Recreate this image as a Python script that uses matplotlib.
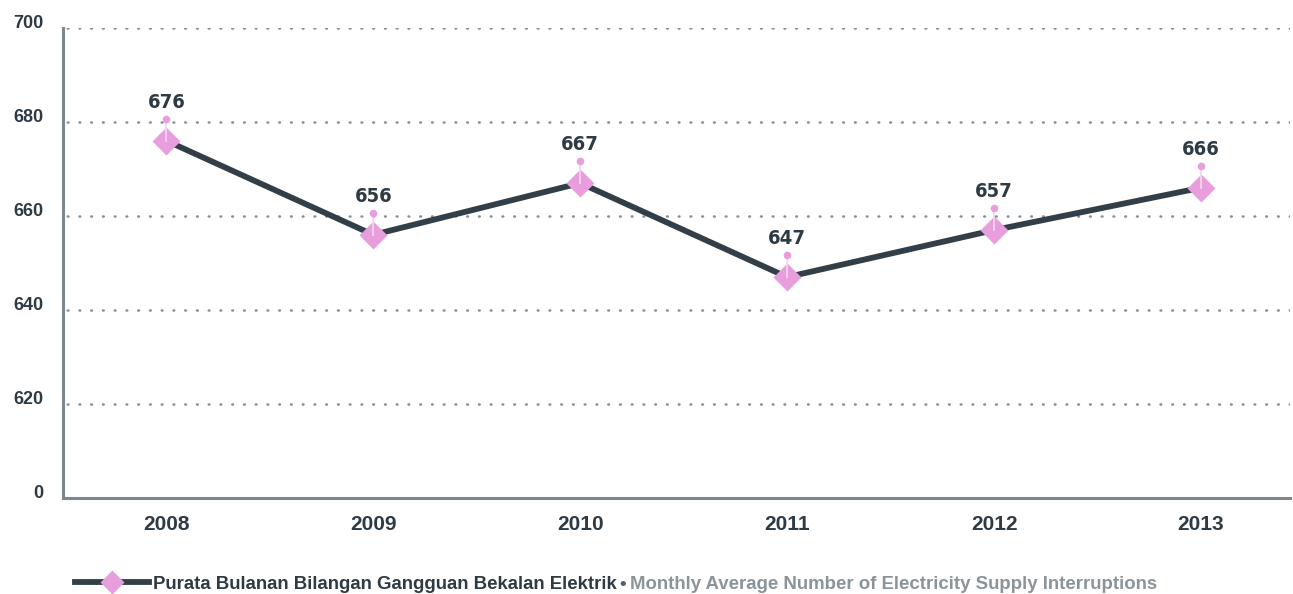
import matplotlib
matplotlib.use("Agg")
import matplotlib.pyplot as plt
from matplotlib.lines import Line2D
from matplotlib import font_manager as fm

# data
years = ["2008", "2009", "2010", "2011", "2012", "2013"]
interruptions = [676, 656, 667, 647, 657, 666]
y_ticks = [600, 620, 640, 660, 680, 700]
y_tick_labels = ["0", "620", "640", "660", "680", "700"]

LINE = "#333F48"
PINK = "#E89EDC"
STEM = "#F2D6EE"
TEXT = "#2E3A44"
GREY = "#8A949A"
AXIS = "#7D878D"

plt.rcParams["font.family"] = ["Liberation Sans", "DejaVu Sans"]

# condensed bold face for the point labels, if one is around
cond = None
for f in fm.fontManager.ttflist:
    if "Condensed" in f.fname and "Bold" in f.fname and "Oblique" not in f.fname:
        cond = f.fname
        break
label_font = fm.FontProperties(fname=cond, size=14.5) if cond else fm.FontProperties(family="Liberation Sans", weight="bold", size=14)

fig = plt.figure(figsize=(12.93, 5.94), dpi=100)
ax = fig.add_axes([0.0487, 0.1616, 0.949, 0.7913])

x = list(range(len(years)))

# stems + small dots above each marker
stem_off = 4.6
for xi, v in zip(x, interruptions):
    ax.plot([xi, xi], [v, v + stem_off], color=STEM, lw=1.3, zorder=6)
    ax.plot(xi, v + stem_off, "o", color=PINK, ms=5.5, mec="none", zorder=6)
    ax.text(xi, v + stem_off + 1.5, str(v), ha="center", va="bottom",
            fontproperties=label_font, color=TEXT)

ax.plot(x, interruptions, color=LINE, lw=4.2, solid_capstyle="butt", zorder=4)
ax.plot(x, interruptions, "D", color=PINK, ms=14, mec="none", zorder=5)

ax.set_xlim(-0.5, 5.43)
ax.set_ylim(600, 700)
ax.set_yticks(y_ticks)
ax.set_yticklabels(y_tick_labels)
ax.set_xticks(x)
ax.set_xticklabels(years)

for yv in y_ticks[1:]:
    ax.axhline(yv, color="#858E94", lw=1.8, ls=(3, (0.3, 4.4)), dash_capstyle="round", zorder=1)

for s in ["top", "right"]:
    ax.spines[s].set_visible(False)
for s in ["left", "bottom"]:
    ax.spines[s].set_color(AXIS)
    ax.spines[s].set_linewidth(2.2)

ax.tick_params(axis="both", length=0)
ax.tick_params(axis="y", labelsize=13, pad=14, labelcolor=TEXT)
ax.tick_params(axis="x", labelsize=15, pad=12, labelcolor=TEXT)
for lbl in ax.get_xticklabels() + ax.get_yticklabels():
    lbl.set_fontweight("bold")
for lbl in ax.get_yticklabels():
    lbl.set_verticalalignment("baseline")

# legend at the bottom
handle = Line2D([], [], color=LINE, lw=4.2, marker="D", ms=12, mfc=PINK, mec="none")
leg = fig.legend([handle], ["Purata Bulanan Bilangan Gangguan Bekalan Elektrik"],
                 loc="center left", bbox_to_anchor=(0.058, 0.016), frameon=False,
                 handlelength=4.0, handletextpad=0.2, borderpad=0, borderaxespad=0,
                 prop={"weight": "bold", "size": 13.4})
leg.get_texts()[0].set_color(TEXT)

fig.canvas.draw()
bb = leg.get_texts()[0].get_window_extent().transformed(fig.transFigure.inverted())
fig.text(bb.x1 + 0.002, (bb.y0 + bb.y1) / 2, "\u2022", ha="left", va="center",
         fontsize=13.4, fontweight="bold", color="#56626A")
fig.text(bb.x1 + 0.0105, (bb.y0 + bb.y1) / 2, "Monthly Average Number of Electricity Supply Interruptions",
         ha="left", va="center", fontsize=13.4, fontweight="bold", color=GREY)

fig.savefig("out.png", dpi=100)
